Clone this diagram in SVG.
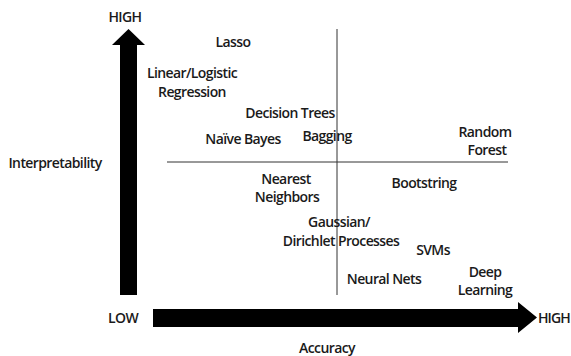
<svg xmlns="http://www.w3.org/2000/svg" width="571" height="356" viewBox="0 0 571 356">
  <style>
    text { font-family: "Open Sans", "Liberation Sans", sans-serif; font-size: 14px; font-weight: 600; fill: #1a1a1a; text-anchor: middle; letter-spacing: -0.6px; }
    .axis { fill: #000; }
    .grid { stroke: #333; stroke-width: 1; fill: none; }
  </style>
  <rect width="571" height="356" fill="#fff"/>

  <!-- axes: thick block arrows -->
  <g id="axes">
    <path id="y-axis" class="axis" d="M120,295 L120,45 L112,45 L128.5,29 L145,45 L137,45 L137,295 Z"/>
    <path id="x-axis" class="axis" d="M153,309 L518,309 L518,302 L537,317.5 L518,333 L518,327 L153,327 Z"/>
  </g>

  <!-- quadrant dividers -->
  <g id="connectors">
    <line class="grid" x1="167" y1="162" x2="508" y2="162"/>
    <line class="grid" x1="337" y1="29" x2="337" y2="295"/>
  </g>

  <!-- axis labels -->
  <g id="labels">
    <text x="125" y="22">HIGH</text>
    <text x="55" y="168">Interpretability</text>
    <text x="123" y="323">LOW</text>
    <text x="538" y="323" style="text-anchor:start; letter-spacing:-0.9px">HIGH</text>
    <text x="327" y="353">Accuracy</text>
  </g>

  <!-- methods -->
  <g id="lasso"><text x="233" y="47">Lasso</text></g>
  <g id="linear-logistic"><text x="192" y="78">Linear/Logistic</text><text x="192" y="97">Regression</text></g>
  <g id="decision-trees"><text x="290" y="118">Decision Trees</text></g>
  <g id="naive-bayes"><text x="243" y="144">Naïve Bayes</text></g>
  <g id="bagging"><text x="327" y="141">Bagging</text></g>
  <g id="random-forest"><text x="485" y="137">Random</text><text x="487" y="155">Forest</text></g>
  <g id="nearest-neighbors"><text x="286" y="184">Nearest</text><text x="287" y="202">Neighbors</text></g>
  <g id="bootstring"><text x="424" y="188">Bootstring</text></g>
  <g id="gaussian-dirichlet"><text x="339" y="227">Gaussian/</text><text x="341" y="246">Dirichlet Processes</text></g>
  <g id="svms"><text x="433" y="255">SVMs</text></g>
  <g id="neural-nets"><text x="384" y="284">Neural Nets</text></g>
  <g id="deep-learning"><text x="485" y="277">Deep</text><text x="485" y="295">Learning</text></g>
</svg>
